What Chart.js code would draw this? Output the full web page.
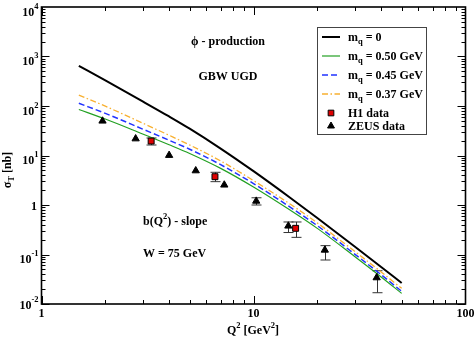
<!DOCTYPE html>
<html>
<head>
<meta charset="utf-8">
<script src="https://cdn.jsdelivr.net/npm/chart.js@4.4.1/dist/chart.umd.min.js"></script>
<style>
html, body { margin: 0; padding: 0; background: #fff; }
#wrap { width: 476px; height: 338px; }
</style>
</head>
<body>
<div id="wrap"><canvas id="chart" width="476" height="338"></canvas></div>
<script>
// Model curves: sigma_T [nb] vs Q^2 [GeV^2]
const q2Grid     = [1.5, 2, 3, 4, 5, 7, 10, 15, 20, 30, 40, 50];
const sigmaMq0   = [646, 328, 124, 61.4, 34.8, 13.8, 4.82, 1.37, 0.546, 0.145, 0.0558, 0.0266];
const sigmaMq050 = [85.1, 54.5, 27.2, 16.5, 11.0, 5.5, 2.31, 0.771, 0.337, 0.0912, 0.0352, 0.0164];
const sigmaMq045 = [113.5, 71.0, 34.2, 20.3, 13.4, 6.53, 2.71, 0.885, 0.382, 0.102, 0.0391, 0.018];
const sigmaMq037 = [166, 99.1, 45.1, 25.6, 16.3, 7.76, 3.11, 1.02, 0.434, 0.116, 0.0444, 0.0207];

// H1 data
const h1Q2    = [3.29, 6.58, 15.8];
const h1Sigma = [19.6, 3.73, 0.338];
const h1Lo    = [16.3, 2.96, 0.222];
const h1Hi    = [22.6, 4.58, 0.454];

// ZEUS data (null = error smaller than marker)
const zeusQ2    = [1.94, 2.78, 4.0, 5.34, 7.28, 10.3, 14.6, 21.7, 38.1];
const zeusSigma = [49.8, 21.8, 10.1, 4.93, 2.54, 1.2, 0.377, 0.123, 0.034];
const zeusLo    = [null, null, null, null, null, 1.0, 0.278, 0.0774, 0.0169];
const zeusHi    = [null, null, null, null, null, 1.40, 0.454, 0.151, 0.047];

// Axis ticks
const xMajor = [1, 10, 100];
const xLabels = ['1', '10', '100'];
const yMajor = [0.01, 0.1, 1, 10, 100, 1000, 10000];
const yBase  = ['10', '10', '1', '10', '10', '10', '10'];
const yExp   = ['-2', '-1', '', '1', '2', '3', '4'];

const legendMq = ['0', '0.50 GeV', '0.45 GeV', '0.37 GeV'];
const legendData = ['H1 data', 'ZEUS data'];

const FONT = '"Liberation Serif", "Times New Roman", serif';

function pts(xs, ys) {
    return xs.map((x, i) => ({ x: x, y: ys[i] }));
}

const lineSets = [
    { label: 'mq = 0', data: pts(q2Grid, sigmaMq0), color: '#000000', width: 2, dash: [] },
    { label: 'mq = 0.50 GeV', data: pts(q2Grid, sigmaMq050), color: '#22a022', width: 1.2, dash: [] },
    { label: 'mq = 0.45 GeV', data: pts(q2Grid, sigmaMq045), color: '#2233ff', width: 1.5, dash: [6, 3] },
    { label: 'mq = 0.37 GeV', data: pts(q2Grid, sigmaMq037), color: '#f8b030', width: 1.3, dash: [6, 2.5, 1.5, 2.5] }
];

const datasets = [
    {
        label: 'H1 data', data: pts(h1Q2, h1Sigma), showLine: false, order: 0,
        pointStyle: 'rect', pointRadius: 4.2, backgroundColor: '#dd0000', borderColor: '#000', borderWidth: 1
    },
    {
        label: 'ZEUS data', data: pts(zeusQ2, zeusSigma), showLine: false, order: 0,
        pointStyle: 'triangle', pointRadius: 4.2, backgroundColor: '#000', borderColor: '#000', borderWidth: 1
    }
].concat(lineSets.map(s => ({
    label: s.label, data: s.data, showLine: true, order: 1,
    borderColor: s.color, borderWidth: s.width, borderDash: s.dash,
    pointRadius: 0, cubicInterpolationMode: 'monotone', fill: false
})));

// error bars drawn through the scales
const errorBars = {
    id: 'errorBars',
    beforeDatasetsDraw(chart) {
        const ctx = chart.ctx;
        const xs = chart.scales.x, ys = chart.scales.y;
        const groups = [[h1Q2, h1Lo, h1Hi], [zeusQ2, zeusLo, zeusHi]];
        ctx.save();
        ctx.strokeStyle = '#333';
        ctx.lineWidth = 1;
        groups.forEach(([qs, lo, hi]) => {
            qs.forEach((q, i) => {
                if (lo[i] == null) return;
                const px = Math.round(xs.getPixelForValue(q)) + 0.5;
                const y1 = ys.getPixelForValue(lo[i]);
                const y2 = ys.getPixelForValue(hi[i]);
                ctx.beginPath();
                ctx.moveTo(px, y1); ctx.lineTo(px, y2);
                ctx.moveTo(px - 5, y1); ctx.lineTo(px + 5, y1);
                ctx.moveTo(px - 5, y2); ctx.lineTo(px + 5, y2);
                ctx.stroke();
            });
        });
        ctx.restore();
    }
};

function supText(ctx, parts, x, y, align) {
    // parts: [text, size, dy]
    let total = 0;
    parts.forEach(p => { ctx.font = 'bold ' + p[1] + 'px ' + FONT; total += ctx.measureText(p[0]).width; });
    let cx = align === 'right' ? x - total : align === 'center' ? x - total / 2 : x;
    ctx.textAlign = 'left';
    parts.forEach(p => {
        ctx.font = 'bold ' + p[1] + 'px ' + FONT;
        ctx.fillText(p[0], cx, y + p[2]);
        cx += ctx.measureText(p[0]).width;
    });
}

const frame = {
    id: 'frame',
    afterDraw(chart) {
        const ctx = chart.ctx;
        const a = chart.chartArea;
        const xs = chart.scales.x, ys = chart.scales.y;
        ctx.save();
        ctx.strokeStyle = '#000';
        ctx.fillStyle = '#000';

        // ticks
        ctx.lineWidth = 1;
        ctx.beginPath();
        for (let d = 1; d < 100; d *= 10) {
            for (let m = 1; m <= 9; m++) {
                const v = d * m;
                const px = Math.round(xs.getPixelForValue(v)) + 0.5;
                const len = m === 1 ? 8 : 4;
                ctx.moveTo(px, a.bottom); ctx.lineTo(px, a.bottom - len);
                ctx.moveTo(px, a.top); ctx.lineTo(px, a.top + len);
            }
        }
        for (let d = 0.01; d < 10000; d *= 10) {
            for (let m = 1; m <= 9; m++) {
                const v = d * m;
                const py = Math.round(ys.getPixelForValue(v)) + 0.5;
                const len = m === 1 ? 8 : 4;
                ctx.moveTo(a.left, py); ctx.lineTo(a.left + len, py);
                ctx.moveTo(a.right, py); ctx.lineTo(a.right - len, py);
            }
        }
        ctx.stroke();

        // box
        ctx.lineWidth = 1.6;
        ctx.strokeRect(a.left, a.top, a.right - a.left, a.bottom - a.top);

        // x tick labels
        ctx.textBaseline = 'alphabetic';
        xMajor.forEach((v, i) => {
            supText(ctx, [[xLabels[i], 12, 0]], xs.getPixelForValue(v), 317, 'center');
        });
        // y tick labels
        yMajor.forEach((v, i) => {
            const py = ys.getPixelForValue(v);
            if (yExp[i] === '') {
                supText(ctx, [[yBase[i], 12, 0]], 37, py + 5, 'right');
            } else {
                const base = i === 0 ? py + 4.5 : py + 8.5;
                supText(ctx, [[yBase[i], 12, 0], [yExp[i], 8.5, -7]], 38.5, base, 'right');
            }
        });

        // axis titles
        supText(ctx, [['Q', 12, 0], ['2', 8.5, -6], [' [GeV', 12, 0], ['2', 8.5, -6], [']', 12, 0]], 253, 334, 'center');
        ctx.save();
        ctx.translate(10.5, 170);
        ctx.rotate(-Math.PI / 2);
        supText(ctx, [['\u03c3', 12, 0], ['T', 8.5, 3], [' [nb]', 12, 0]], 0, 0, 'center');
        ctx.restore();

        // annotations
        supText(ctx, [['\u03d5 - production', 12, 0]], 228, 45, 'center');
        supText(ctx, [['GBW UGD', 12, 0]], 228, 80, 'center');
        supText(ctx, [['b(Q', 12, 0], ['2', 8.5, -6], [') - slope', 12, 0]], 143, 224.5, 'left');
        supText(ctx, [['W = 75 GeV', 12, 0]], 143, 256.5, 'left');

        // legend
        const lx = 317, ly = 27, lw = 109, lh = 107;
        ctx.fillStyle = '#fff';
        ctx.fillRect(lx, ly, lw, lh);
        ctx.strokeStyle = '#444';
        ctx.lineWidth = 1;
        ctx.strokeRect(lx + 0.5, ly + 0.5, lw, lh);
        ctx.fillStyle = '#000';
        const rowY = [37, 56, 75, 94, 113, 126];
        lineSets.forEach((s, i) => {
            const y = rowY[i];
            ctx.save();
            ctx.strokeStyle = s.color;
            ctx.lineWidth = s.width;
            ctx.setLineDash(s.dash);
            ctx.beginPath();
            ctx.moveTo(322, y); ctx.lineTo(340, y);
            ctx.stroke();
            ctx.restore();
            supText(ctx, [['m', 12, 0], ['q', 8.5, 3], [' = ' + legendMq[i], 12, 0]], 348, y + 4, 'left');
        });
        const markerSets = [datasets[0], datasets[1]];
        markerSets.forEach((d, i) => {
            const y = rowY[4 + i];
            ctx.save();
            ctx.fillStyle = d.backgroundColor;
            ctx.strokeStyle = d.borderColor;
            ctx.lineWidth = 1;
            Chart.helpers.drawPoint(ctx, { pointStyle: d.pointStyle, radius: 4, rotation: 0, borderWidth: 1 }, 331, y);
            ctx.restore();
            supText(ctx, [[legendData[i], 12, 0]], 348, y + 4, 'left');
        });
        ctx.restore();
    }
};

new Chart(document.getElementById('chart'), {
    type: 'scatter',
    data: { datasets: datasets },
    options: {
        responsive: false,
        animation: false,
        layout: { padding: { left: 41.5, right: 10.5, top: 7, bottom: 34 } },
        plugins: { legend: { display: false }, tooltip: { enabled: false } },
        scales: {
            x: { type: 'logarithmic', min: 1, max: 100, display: false },
            y: { type: 'logarithmic', min: 0.01, max: 10000, display: false }
        }
    },
    plugins: [errorBars, frame]
});
</script>
</body>
</html>
